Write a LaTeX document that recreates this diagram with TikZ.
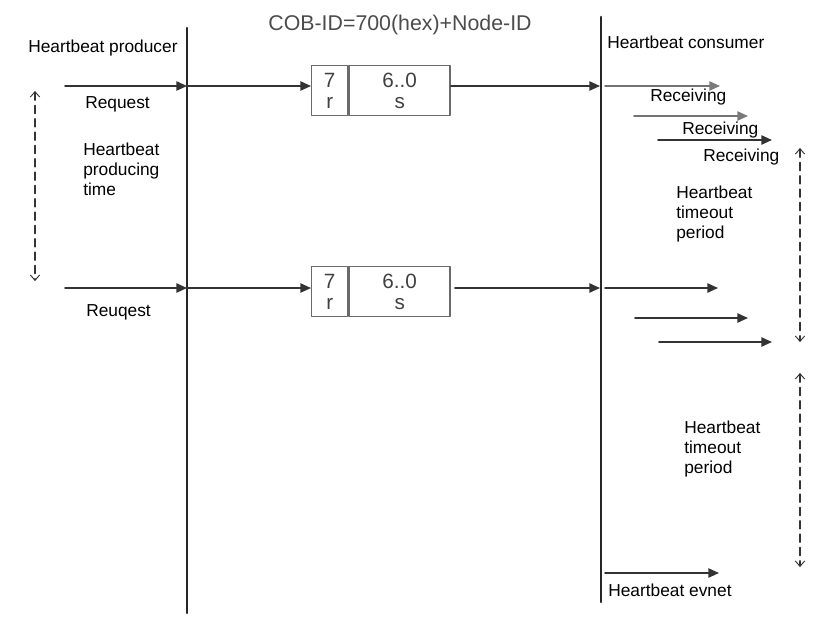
\documentclass[tikz,border=0pt]{standalone}
\usepackage{fontspec}
\setmainfont{Liberation Sans}
\usetikzlibrary{arrows.meta}
\definecolor{linegray}{HTML}{333333}
\definecolor{boxgray}{HTML}{6A6A6A}
\definecolor{tipgray}{HTML}{7A7A7A}
\tikzset{
  lifeline/.style={line width=1.9pt,draw=black!85},
  msg/.style={line width=1.2pt,draw=linegray,-{Triangle[length=8pt,width=7pt]}},
  faintmsg/.style={msg,draw=black!55,-{Triangle[length=8pt,width=7pt,color=tipgray]}},
  period/.style={line width=1.1pt,draw=linegray,dash pattern=on 6pt off 4pt,
    {Straight Barb[length=4pt,width=7pt,line width=0.7pt]}-{Straight Barb[length=4pt,width=7pt,line width=0.7pt]}},
  lbl/.style={anchor=base west,inner sep=0pt,font=\fontsize{13}{15}\selectfont},
  lblblock/.style={anchor=north west,inner sep=0pt,align=left,font=\fontsize{13}{15}\selectfont},
  cell/.style={draw=boxgray,line width=1.1pt,anchor=north west,inner sep=0pt,minimum height=37.5pt,
    align=center,text=black!75,font=\fontsize{15.5}{16}\selectfont},
  bitcell/.style={cell,minimum width=27pt},
  datacell/.style={cell,minimum width=75.75pt}
}
\begin{document}
\begin{tikzpicture}[x=0.75pt,y=-0.75pt,line join=round,line cap=round]
\useasboundingbox (0,0) rectangle (828,619);
% time lines of producer and consumer
\coordinate (PT) at (187,28);
\coordinate (PB) at (187,613);
\coordinate (CT) at (601,17);
\coordinate (CB) at (601,602);
\draw[lifeline] (PT)--(PB);
\draw[lifeline] (CT)--(CB);
\node[anchor=base,inner sep=0pt,text=black!70,font=\fontsize{16}{18}\selectfont] (title) at (400,30) {COB-ID=700(hex)+Node-ID};
\node[lbl] (prod) at (28,52) {Heartbeat producer};
\node[lbl] (cons) at (607,48) {Heartbeat consumer};
% first heartbeat
\coordinate (S1) at (65,86);
\coordinate (P1) at (187,86);
\coordinate (C1) at (600,86);
\node[bitcell] (r1) at (311,65) {7\\r};
\node[datacell] (s1) at (r1.north east) {6..0\\s};
\draw[msg] (S1)--(P1);
\draw[msg] (P1)--(P1 -| r1.west);
\draw[msg] (C1 -| s1.east)--(C1);
\node[lbl] (req1) at (85,108) {Request};
% second heartbeat
\coordinate (S2) at (65,288);
\coordinate (P2) at (187,288);
\coordinate (C2) at (600,288);
\node[bitcell] (r2) at (311,266) {7\\r};
\node[datacell] (s2) at (r2.north east) {6..0\\s};
\draw[msg] (S2)--(P2);
\draw[msg] (P2)--(P2 -| r2.west);
\draw[msg] ([xshift=3pt]C2 -| s2.east)--(C2);
\node[lbl] (req2) at (86,316) {Reuqest};
% producing time
\coordinate (T1a) at (35,91);
\coordinate (T1b) at (35,281);
\draw[period] (T1a)--(T1b);
\node[lblblock] (prodtime) at (83,143) {Heartbeat\\producing\\time};
% receiving side
\coordinate (R1a) at (605,86);
\coordinate (R1b) at (720,86);
\coordinate (R2a) at (634,116);
\coordinate (R2b) at (748,116);
\coordinate (R3a) at (658,140);
\coordinate (R3b) at (772,140);
\draw[faintmsg] (R1a)--(R1b);
\draw[faintmsg] (R2a)--(R2b);
\draw[msg] (R3a)--(R3b);
\node[lbl] (rx1) at (650,101) {Receiving};
\node[lbl] (rx2) at (682,134) {Receiving};
\node[lbl] (rx3) at (703,161) {Receiving};
\coordinate (Q1a) at (605,288);
\coordinate (Q1b) at (718,288);
\coordinate (Q2a) at (635,318);
\coordinate (Q2b) at (748,318);
\coordinate (Q3a) at (659,342);
\coordinate (Q3b) at (772,342);
\draw[msg] (Q1a)--(Q1b);
\draw[msg] (Q2a)--(Q2b);
\draw[msg] (Q3a)--(Q3b);
% timeout periods
\coordinate (T2a) at (800,148);
\coordinate (T2b) at (800,342);
\coordinate (T3a) at (800,373);
\coordinate (T3b) at (800,567);
\draw[period] (T2a)--(T2b);
\draw[period] (T3a)--(T3b);
\node[lblblock] (tout1) at (676,186) {Heartbeat\\timeout\\period};
\node[lblblock] (tout2) at (684,421) {Heartbeat\\timeout\\period};
% heartbeat event
\coordinate (Ea) at (605,573);
\coordinate (Eb) at (719,573);
\draw[msg] (Ea)--(Eb);
\node[lbl] (evt) at (608,596) {Heartbeat evnet};
\end{tikzpicture}
\end{document}
